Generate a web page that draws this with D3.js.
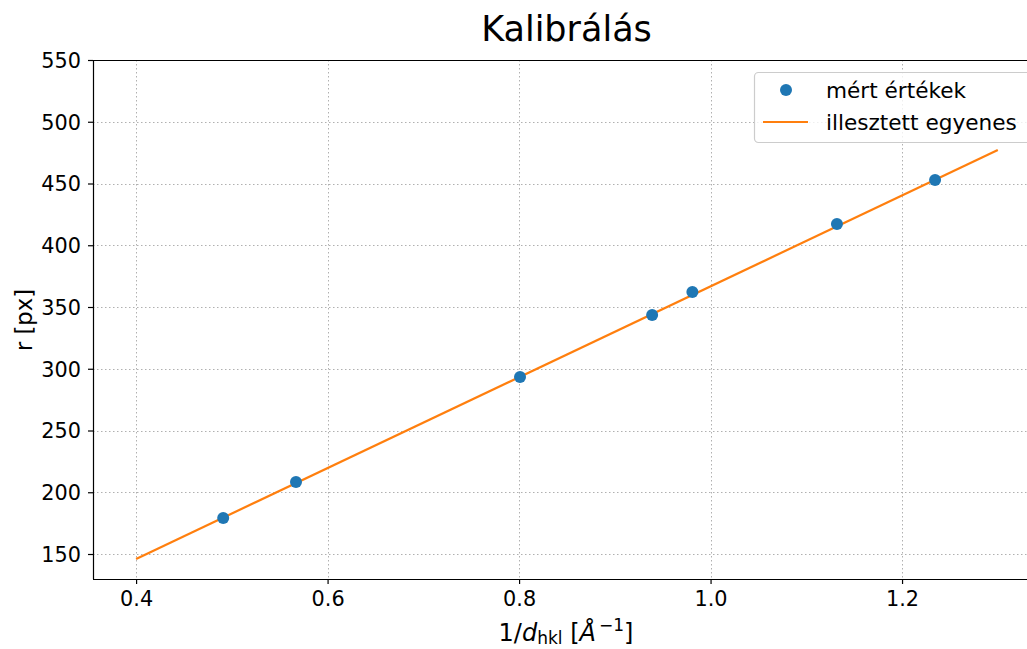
<!DOCTYPE html>
<html><head><meta charset="utf-8">
<script src="https://cdn.jsdelivr.net/npm/d3@7"></script>
<style>body{margin:0;background:#fff}svg{display:block}text{font-family:"DejaVu Sans",sans-serif;fill:#000}</style>
</head><body>
<svg id="c" width="1027" height="649"></svg>
<script>
const measX = [0.491, 0.567, 0.801, 0.939, 0.981, 1.132, 1.2345];
const measY = [179.1, 208.3, 293.3, 343.5, 362.1, 417.2, 452.8];
const fitX = [0.4, 1.3];
const fitY = [146.0, 477.1];
const xTicks = [0.4, 0.6, 0.8, 1.0, 1.2];
const yTicks = [150, 200, 250, 300, 350, 400, 450, 500, 550];
const seriesNames = ["mért értékek", "illesztett egyenes"];
const colors = ["#1f77b4", "#ff7f0e"];

const svg = d3.select("#c");
const L = 93, R = 1027, T = 60, B = 579;
const x = d3.scaleLinear().domain([0.355, 1.3305]).range([L, R]);
const y = d3.scaleLinear().domain([129.76, 550]).range([B, T]);

// grid
const g = svg.append("g");
g.selectAll(".gx").data(xTicks).join("line")
  .attr("x1", d => Math.round(x(d)) + 0.5).attr("x2", d => Math.round(x(d)) + 0.5)
  .attr("y1", T).attr("y2", B)
  .attr("stroke", "#b0b0b0").attr("stroke-width", 1).attr("stroke-dasharray", "1.5,2.5");
g.selectAll(".gy").data(yTicks).join("line")
  .attr("y1", d => Math.round(y(d)) + 0.5).attr("y2", d => Math.round(y(d)) + 0.5)
  .attr("x1", L).attr("x2", R)
  .attr("stroke", "#b0b0b0").attr("stroke-width", 1).attr("stroke-dasharray", "1.5,2.5");

// fit line
const pts = fitX.map((v, i) => [v, fitY[i]]);
svg.append("path").datum(pts)
  .attr("d", d3.line().x(d => x(d[0])).y(d => y(d[1])))
  .attr("fill", "none").attr("stroke", colors[1]).attr("stroke-width", 2.2);

// points
svg.append("g").selectAll("circle").data(measX.map((v, i) => [v, measY[i]])).join("circle")
  .attr("cx", d => x(d[0])).attr("cy", d => y(d[1])).attr("r", 6)
  .attr("fill", colors[0]);

// axes
const xa = svg.append("g").attr("transform", `translate(0,${B})`)
  .call(d3.axisBottom(x).tickValues(xTicks).tickFormat(d3.format(".1f")).tickSize(5).tickPadding(7));
const ya = svg.append("g").attr("transform", `translate(${L},0)`)
  .call(d3.axisLeft(y).tickValues(yTicks).tickSize(5).tickPadding(7));
[xa, ya].forEach(a => {
  a.select(".domain").remove();
  a.selectAll("text").style("font-size", "20.8px").attr("fill", "#000");
  a.selectAll("line").attr("stroke", "#000").attr("stroke-width", 1.2);
});
ya.selectAll("text").attr("dy", "0.35em");
// spines
svg.append("line").attr("x1", L).attr("x2", R).attr("y1", B + 0.5).attr("y2", B + 0.5).attr("stroke", "#000").attr("stroke-width", 1.2);
svg.append("line").attr("x1", L).attr("x2", R).attr("y1", T + 0.5).attr("y2", T + 0.5).attr("stroke", "#000").attr("stroke-width", 1.2);
svg.append("line").attr("x1", L + 0.5).attr("x2", L + 0.5).attr("y1", T).attr("y2", B).attr("stroke", "#000").attr("stroke-width", 1.2);

// title
svg.append("text").attr("x", 566.5).attr("y", 41).attr("text-anchor", "middle")
  .style("font-size", "35px").text("Kalibrálás");

// x label
const xl = svg.append("text").attr("x", 566).attr("y", 641).attr("text-anchor", "middle").style("font-size", "24px");
xl.append("tspan").text("1/");
xl.append("tspan").style("font-style", "italic").text("d");
xl.append("tspan").attr("dy", 3).style("font-size", "17px").text("hkl");
xl.append("tspan").attr("dy", -3).text(" [");
xl.append("tspan").style("font-style", "italic").text("Å");
xl.append("tspan").attr("dy", -10).attr("dx", 3).style("font-size", "17px").text("−1");
xl.append("tspan").attr("dy", 10).text("]");

// y label
svg.append("text").attr("transform", "translate(32,320) rotate(-90)").attr("text-anchor", "middle")
  .style("font-size", "22.7px").text("r [px]");

// legend
const lg = svg.append("g");
lg.append("rect").attr("x", 754.5).attr("y", 72.5).attr("width", 290).attr("height", 70).attr("rx", 4)
  .attr("fill", "#fff").attr("fill-opacity", 0.8).attr("stroke", "#cccccc").attr("stroke-width", 1.2);
lg.append("circle").attr("cx", 786).attr("cy", 90).attr("r", 6).attr("fill", colors[0]);
lg.append("line").attr("x1", 763).attr("x2", 808).attr("y1", 122).attr("y2", 122).attr("stroke", colors[1]).attr("stroke-width", 2.2);
lg.selectAll("text").data(seriesNames).join("text")
  .attr("x", 826).attr("y", (d, i) => 90 + i * 32).attr("dy", "0.35em")
  .style("font-size", "21.6px").text(d => d);
</script>
</body></html>
